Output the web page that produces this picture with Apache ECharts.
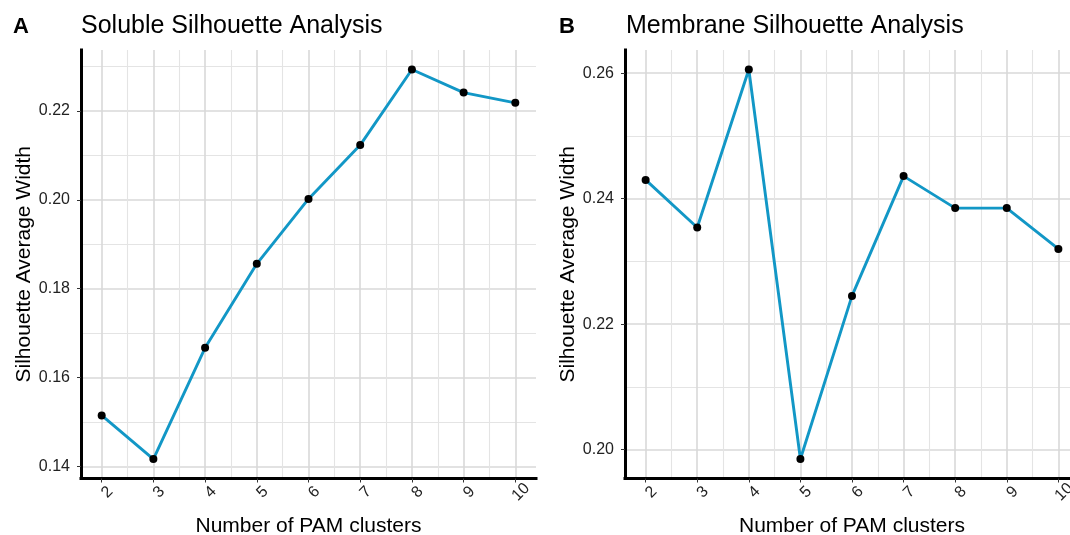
<!DOCTYPE html>
<html>
<head>
<meta charset="utf-8">
<script src="https://cdn.jsdelivr.net/npm/echarts@6/dist/echarts.min.js"></script>
<style>
html,body{margin:0;padding:0;background:#fff;overflow:hidden;}
#chart{width:1085px;height:535px;}
</style>
</head>
<body>
<div id="chart"></div>
<script>
// ---- data ----
const clusters = [2, 3, 4, 5, 6, 7, 8, 9, 10];
const solubleSilhouette = [0.1515, 0.1417, 0.1667, 0.1856, 0.2002, 0.2123, 0.2293, 0.2241, 0.2218];
const membraneSilhouette = [0.2430, 0.2354, 0.2606, 0.1985, 0.2245, 0.2436, 0.2385, 0.2385, 0.2320];
const xTickLabels = [2, 3, 4, 5, 6, 7, 8, 9, 10];
const yTicksSoluble = [0.14, 0.16, 0.18, 0.20, 0.22];
const yTicksMembrane = [0.20, 0.22, 0.24, 0.26];
const panelTitles = ['Soluble Silhouette Analysis', 'Membrane Silhouette Analysis'];
const panelTags = ['A', 'B'];
const xAxisTitle = 'Number of PAM clusters';
const yAxisTitle = 'Silhouette Average Width';

// ---- helpers ----
const FONT = '"Liberation Sans", Arial, sans-serif';
function expand(vals) {
  const lo = Math.min.apply(null, vals), hi = Math.max.apply(null, vals);
  const pad = (hi - lo) * 0.05;
  return [lo - pad, hi + pad];
}
const xr = expand(clusters);
const yrA = expand(solubleSilhouette);
const yrB = expand(membraneSilhouette);

const majorLine = { color: '#d9d9d9', width: 1.6 };
const minorLine = { color: '#e4e4e4', width: 1.1 };

function makeX(idx) {
  return {
    type: 'value', gridIndex: idx, min: xr[0], max: xr[1], splitNumber: 8,
    axisLine: { show: true, onZero: false, lineStyle: { color: '#000', width: 3, cap: 'square' } },
    axisTick: { show: true, customValues: xTickLabels, length: 4, lineStyle: { color: '#333', width: 1 } },
    axisLabel: { customValues: xTickLabels, rotate: 45, align: 'center', verticalAlign: 'top',
      fontSize: 16, color: '#222', margin: 8, fontFamily: FONT },
    splitLine: { show: true, lineStyle: majorLine },
    minorTick: { show: false, splitNumber: 2 },
    minorSplitLine: { show: true, lineStyle: minorLine },
    name: xAxisTitle, nameLocation: 'middle', nameGap: 37,
    nameTextStyle: { fontSize: 21, color: '#000', fontFamily: FONT }
  };
}
function makeY(idx, yr, ticks, splitNumber) {
  return {
    type: 'value', gridIndex: idx, min: yr[0], max: yr[1], splitNumber: splitNumber,
    axisLine: { show: true, onZero: false, lineStyle: { color: '#000', width: 3, cap: 'square' } },
    axisTick: { show: true, customValues: ticks, length: 4, lineStyle: { color: '#333', width: 1 } },
    axisLabel: { customValues: ticks, fontSize: 16, color: '#222', margin: 11, fontFamily: FONT,
      formatter: v => Number(v).toFixed(2) },
    splitLine: { show: true, lineStyle: majorLine },
    minorTick: { show: false, splitNumber: 2 },
    minorSplitLine: { show: true, lineStyle: minorLine },
    name: yAxisTitle, nameLocation: 'middle', nameGap: 46,
    nameTextStyle: { fontSize: 21, color: '#000', fontFamily: FONT }
  };
}
function makeSeries(idx, vals) {
  return {
    type: 'line', xAxisIndex: idx, yAxisIndex: idx,
    data: clusters.map((c, i) => [c, vals[i]]),
    lineStyle: { color: '#1297c6', width: 2.9 },
    symbol: 'circle', symbolSize: 8,
    itemStyle: { color: '#000', borderWidth: 0 },
    clip: false, animation: false
  };
}

const chart = echarts.init(document.getElementById('chart'), null, { renderer: 'canvas' });
chart.setOption({
  backgroundColor: '#fff',
  animation: false,
  textStyle: { fontFamily: FONT },
  title: [
    { text: panelTags[0], left: 13, top: 16, padding: 0, textStyle: { fontSize: 22, fontWeight: 'bold', color: '#000', fontFamily: FONT } },
    { text: panelTitles[0], left: 81, top: 14, padding: 0, textStyle: { fontSize: 25, fontWeight: 'normal', color: '#000', fontFamily: FONT } },
    { text: panelTags[1], left: 559, top: 16, padding: 0, textStyle: { fontSize: 22, fontWeight: 'bold', color: '#000', fontFamily: FONT } },
    { text: panelTitles[1], left: 626, top: 14, padding: 0, textStyle: { fontSize: 25, fontWeight: 'normal', color: '#000', fontFamily: FONT } }
  ],
  grid: [
    { left: 81, top: 50, width: 455, height: 428.5, containLabel: false, outerBoundsMode: 'none' },
    { left: 625, top: 50, width: 454, height: 428.5, containLabel: false, outerBoundsMode: 'none' }
  ],
  xAxis: [makeX(0), makeX(1)],
  yAxis: [makeY(0, yrA, yTicksSoluble, 5), makeY(1, yrB, yTicksMembrane, 3)],
  series: [makeSeries(0, solubleSilhouette), makeSeries(1, membraneSilhouette)]
});
</script>
</body>
</html>
